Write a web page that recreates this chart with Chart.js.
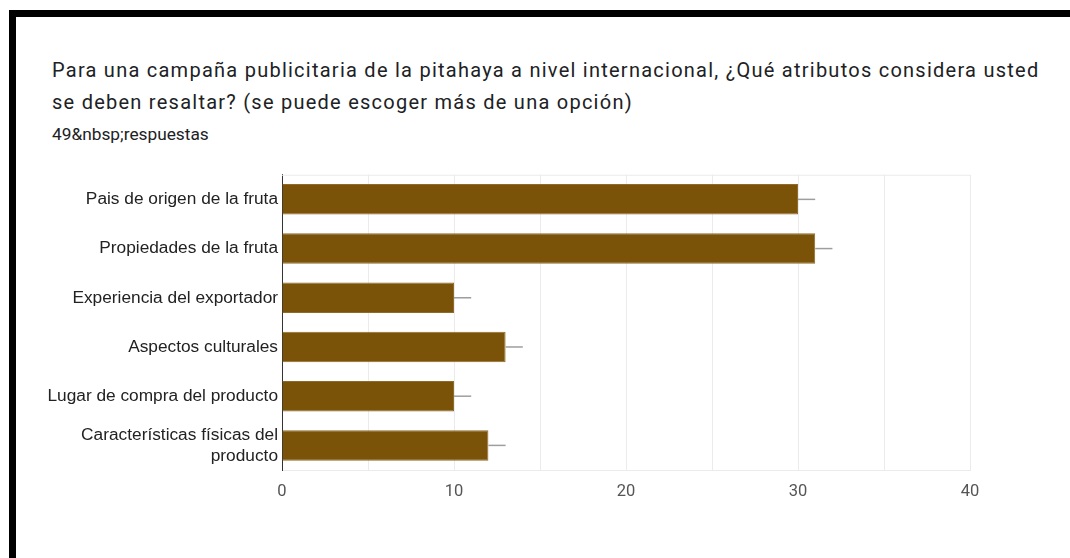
<!DOCTYPE html>
<html>
<head>
<meta charset="utf-8">
<script src="https://cdn.jsdelivr.net/npm/chart.js@4"></script>
<style>
    body { margin: 0; width: 1070px; height: 558px; background: #fff; overflow: hidden; position: relative; }
    .frame { position: absolute; left: 9px; top: 10px; right: -10px; bottom: -10px; border-top: 7px solid #000; border-left: 7px solid #000; }
    .title { position: absolute; left: 52px; top: 54px; width: 1010px; font-family: Roboto, sans-serif; font-size: 20px; letter-spacing: 1.25px; line-height: 32px; color: #202124; }
    .count { position: absolute; left: 52px; top: 124px; font-family: Roboto, sans-serif; font-size: 17.3px; color: #202124; }
    .chart-box { position: absolute; left: 0; top: 150px; width: 1070px; height: 360px; }
</style>
</head>
<body>
<div class="frame"></div>
<div class="title">Para una campaña publicitaria de la pitahaya a nivel internacional, ¿Qué atributos considera usted se deben resaltar? (se puede escoger más de una opción)</div>
<div class="count">49&amp;nbsp;respuestas</div>
<div class="chart-box"><canvas id="bars"></canvas></div>

<script>
const categories = [
    'Pais de origen de la fruta',
    'Propiedades de la fruta',
    'Experiencia del exportador',
    'Aspectos culturales',
    'Lugar de compra del producto',
    ['Características físicas del', 'producto']
];
const answers = [30, 31, 10, 13, 10, 12];
const errorUp = [1, 1, 1, 1, 1, 1];
const xTicks = [0, 10, 20, 30, 40];

// little grey whisker to the right of each bar + the light top border of the plot
const whiskers = {
    id: 'whiskers',
    afterDatasetsDraw(chart) {
        const ctx = chart.ctx;
        const xs = chart.scales.x;
        const meta = chart.getDatasetMeta(0);
        ctx.save();
        ctx.strokeStyle = '#9e9e9e';
        ctx.lineWidth = 1.5;
        meta.data.forEach((bar, i) => {
            const x0 = xs.getPixelForValue(answers[i]);
            const x1 = xs.getPixelForValue(answers[i] + errorUp[i]);
            ctx.beginPath();
            ctx.moveTo(x0, bar.y);
            ctx.lineTo(x1, bar.y);
            ctx.stroke();
        });
        const a = chart.chartArea;
        ctx.strokeStyle = '#ebebeb';
        ctx.lineWidth = 1;
        ctx.beginPath();
        ctx.moveTo(a.left, a.top + 0.5);
        ctx.lineTo(a.right, a.top + 0.5);
        ctx.stroke();
        ctx.restore();
    }
};

new Chart(document.getElementById('bars'), {
    type: 'bar',
    data: {
        labels: categories,
        datasets: [{
            data: answers,
            backgroundColor: '#7a5308',
            borderColor: '#8f6a2a',
            borderWidth: 1,
            categoryPercentage: 1,
            barPercentage: 0.62
        }]
    },
    options: {
        indexAxis: 'y',
        responsive: true,
        maintainAspectRatio: false,
        animation: false,
        layout: { padding: { top: 7, right: 100, left: 0, bottom: 0 } },
        plugins: { legend: { display: false }, tooltip: { enabled: false } },
        scales: {
            x: {
                min: 0,
                max: 40,
                afterFit: s => { s.height = 40; },
                grid: { color: '#ebebeb', drawTicks: false },
                border: { color: '#ebebeb' },
                ticks: {
                    stepSize: 5,
                    padding: 12,
                    color: '#555',
                    font: { family: 'Roboto, sans-serif', size: 16.5 },
                    callback: v => xTicks.includes(v) ? v : ''
                }
            },
            y: {
                afterFit: s => { s.width = 282; },
                grid: { display: false, drawTicks: false },
                border: { color: '#333', width: 1 },
                ticks: {
                    padding: 4,
                    color: '#222',
                    font: { family: '"Liberation Sans", Arial, sans-serif', size: 17.3 }
                }
            }
        }
    },
    plugins: [whiskers]
});
</script>
</body>
</html>
